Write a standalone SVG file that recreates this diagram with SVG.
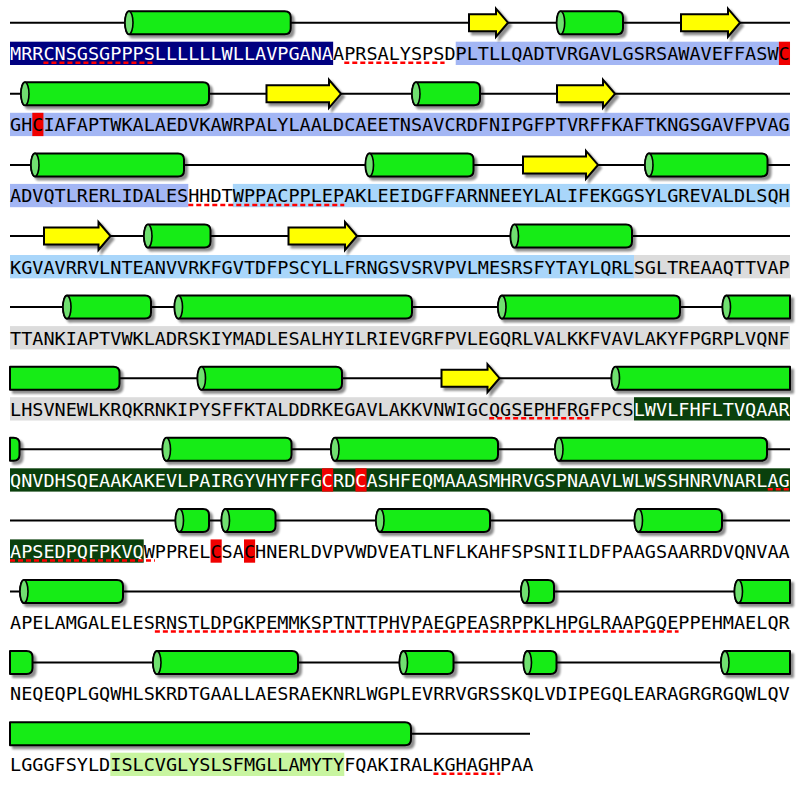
<svg xmlns="http://www.w3.org/2000/svg" width="800" height="785" viewBox="0 0 800 785">
<defs>
<filter id="ds" x="-5%" y="-30%" width="115%" height="170%">
<feGaussianBlur in="SourceAlpha" stdDeviation="0.8"/>
<feOffset dx="3" dy="3" result="o"/>
<feComponentTransfer><feFuncA type="linear" slope="0.45"/></feComponentTransfer>
<feMerge><feMergeNode/><feMergeNode in="SourceGraphic"/></feMerge>
</filter>
</defs>
<style>
.bb{stroke:#000;stroke-width:2;fill:none}
.hx{fill:#16ec16;stroke:#000;stroke-width:2;stroke-linejoin:round}
.cap{fill:#70e070;stroke:#000;stroke-width:1.6}
.st{fill:#ffff00;stroke:#000;stroke-width:2;stroke-linejoin:miter}
.seq{font-family:"DejaVu Sans Mono","Liberation Mono",monospace;font-size:18.5px;fill:#000}
.w{fill:#fff}
.ul{stroke:#ff0000;stroke-width:2.5;stroke-dasharray:5,3;fill:none}
.nv{fill:#000080}.pw{fill:#a3b6f4}.sk{fill:#a9d6fa}.gy{fill:#dcdcdc}.dg{fill:#0a400c}.rd{fill:#f00000}.lg{fill:#c8f5a0}
</style>
<rect width="800" height="785" fill="#fff"/>

<g id="row1" transform="translate(0,22.7)">
<rect class="nv" x="10" y="19" width="323.15" height="23.3"/>
<rect class="pw" x="455.72" y="19" width="323.15" height="23.3"/>
<rect class="rd" x="778.87" y="19" width="11.14" height="23.3"/>
<text class="seq" x="10" y="37.5"><tspan class="w">MRRCNSGSGPPPSLLLLLLWLLAVPGANA</tspan>APRSALYSPSDPLTLLQADTVRGAVLGSRSAWAVEFFASWC</text>
<path class="ul" d="M43.43,40H154.86M344.29,40H444.58"/>
<path class="bb" d="M10,0H790"/>
<g filter="url(#ds)">
<path class="hx" d="M129,-11.5H284.7Q290.7,-11.5 290.7,-5.5V5.5Q290.7,11.5 284.7,11.5H129A4,11.5 0 0 1 129,-11.5Z"/><ellipse class="cap" cx="129" cy="0" rx="4" ry="11.5"/>
<path class="st" d="M469,-8.5H496V-14L508,0L496,14V8.5H469Z"/>
<path class="hx" d="M560.7,-11.5H617Q623,-11.5 623,-5.5V5.5Q623,11.5 617,11.5H560.7A4,11.5 0 0 1 560.7,-11.5Z"/><ellipse class="cap" cx="560.7" cy="0" rx="4" ry="11.5"/>
<path class="st" d="M681,-8.5H728V-14L740,0L728,14V8.5H681Z"/>
</g>
</g>

<g id="row2" transform="translate(0,93.8)">
<rect class="pw" x="10" y="19" width="780" height="23.3"/>
<rect class="rd" x="32.29" y="19" width="11.14" height="23.3"/>
<text class="seq" x="10" y="37.5">GHCIAFAPTWKALAEDVKAWRPALYLAALDCAEETNSAVCRDFNIPGFPTVRFFKAFTKNGSGAVFPVAG</text>
<path class="bb" d="M10,0H790"/>
<g filter="url(#ds)">
<path class="hx" d="M25,-11.5H203Q209,-11.5 209,-5.5V5.5Q209,11.5 203,11.5H25A4,11.5 0 0 1 25,-11.5Z"/><ellipse class="cap" cx="25" cy="0" rx="4" ry="11.5"/>
<path class="st" d="M266.5,-8.5H329V-14L341,0L329,14V8.5H266.5Z"/>
<path class="hx" d="M416,-11.5H474Q480,-11.5 480,-5.5V5.5Q480,11.5 474,11.5H416A4,11.5 0 0 1 416,-11.5Z"/><ellipse class="cap" cx="416" cy="0" rx="4" ry="11.5"/>
<path class="st" d="M557,-8.5H603V-14L615,0L603,14V8.5H557Z"/>
</g>
</g>

<g id="row3" transform="translate(0,164.9)">
<rect class="pw" x="10" y="19" width="178.29" height="23.3"/>
<rect class="sk" x="232.86" y="19" width="557.15" height="23.3"/>
<text class="seq" x="10" y="37.5">ADVQTLRERLIDALESHHDTWPPACPPLEPAKLEEIDGFFARNNEEYLALIFEKGGSYLGREVALDLSQH</text>
<path class="ul" d="M188.29,40H344.29"/>
<path class="bb" d="M10,0H790"/>
<g filter="url(#ds)">
<path class="hx" d="M35,-11.5H178Q184,-11.5 184,-5.5V5.5Q184,11.5 178,11.5H35A4,11.5 0 0 1 35,-11.5Z"/><ellipse class="cap" cx="35" cy="0" rx="4" ry="11.5"/>
<path class="hx" d="M369.5,-11.5H467.5Q473.5,-11.5 473.5,-5.5V5.5Q473.5,11.5 467.5,11.5H369.5A4,11.5 0 0 1 369.5,-11.5Z"/><ellipse class="cap" cx="369.5" cy="0" rx="4" ry="11.5"/>
<path class="st" d="M523,-8.5H586V-14L598,0L586,14V8.5H523Z"/>
<path class="hx" d="M649,-11.5H761.5Q767.5,-11.5 767.5,-5.5V5.5Q767.5,11.5 761.5,11.5H649A4,11.5 0 0 1 649,-11.5Z"/><ellipse class="cap" cx="649" cy="0" rx="4" ry="11.5"/>
</g>
</g>

<g id="row4" transform="translate(0,236)">
<rect class="sk" x="10" y="19" width="624" height="23.3"/>
<rect class="gy" x="634" y="19" width="156" height="23.3"/>
<text class="seq" x="10" y="37.5">KGVAVRRVLNTEANVVRKFGVTDFPSCYLLFRNGSVSRVPVLMESRSFYTAYLQRLSGLTREAAQTTVAP</text>
<path class="bb" d="M10,0H790"/>
<g filter="url(#ds)">
<path class="st" d="M44,-8.5H98.5V-14L110.5,0L98.5,14V8.5H44Z"/>
<path class="hx" d="M148,-11.5H204.5Q210.5,-11.5 210.5,-5.5V5.5Q210.5,11.5 204.5,11.5H148A4,11.5 0 0 1 148,-11.5Z"/><ellipse class="cap" cx="148" cy="0" rx="4" ry="11.5"/>
<path class="st" d="M288.5,-8.5H345V-14L357,0L345,14V8.5H288.5Z"/>
<path class="hx" d="M514.5,-11.5H626Q632,-11.5 632,-5.5V5.5Q632,11.5 626,11.5H514.5A4,11.5 0 0 1 514.5,-11.5Z"/><ellipse class="cap" cx="514.5" cy="0" rx="4" ry="11.5"/>
</g>
</g>

<g id="row5" transform="translate(0,307.1)">
<rect class="gy" x="10" y="19" width="780" height="23.3"/>
<text class="seq" x="10" y="37.5">TTANKIAPTVWKLADRSKIYMADLESALHYILRIEVGRFPVLEGQRLVALKKFVAVLAKYFPGRPLVQNF</text>
<path class="bb" d="M10,0H790"/>
<g filter="url(#ds)">
<path class="hx" d="M67,-11.5H145Q151,-11.5 151,-5.5V5.5Q151,11.5 145,11.5H67A4,11.5 0 0 1 67,-11.5Z"/><ellipse class="cap" cx="67" cy="0" rx="4" ry="11.5"/>
<path class="hx" d="M178.5,-11.5H406Q412,-11.5 412,-5.5V5.5Q412,11.5 406,11.5H178.5A4,11.5 0 0 1 178.5,-11.5Z"/><ellipse class="cap" cx="178.5" cy="0" rx="4" ry="11.5"/>
<path class="hx" d="M502,-11.5H674Q680,-11.5 680,-5.5V5.5Q680,11.5 674,11.5H502A4,11.5 0 0 1 502,-11.5Z"/><ellipse class="cap" cx="502" cy="0" rx="4" ry="11.5"/>
<path class="hx" d="M726.5,-11.5H790V11.5H726.5A4,11.5 0 0 1 726.5,-11.5Z"/><ellipse class="cap" cx="726.5" cy="0" rx="4" ry="11.5"/>
</g>
</g>

<g id="row6" transform="translate(0,378.2)">
<rect class="gy" x="10" y="19" width="624" height="23.3"/>
<rect class="dg" x="634" y="19" width="156" height="23.3"/>
<text class="seq" x="10" y="37.5">LHSVNEWLKRQKRNKIPYSFFKTALDDRKEGAVLAKKVNWIGCQGSEPHFRGFPCS<tspan class="w">LWVLFHFLTVQAAR</tspan></text>
<path class="ul" d="M489.15,40H589.44"/>
<path class="bb" d="M10,0H790"/>
<g filter="url(#ds)">
<path class="hx" d="M10,-11.5H113.5Q119.5,-11.5 119.5,-5.5V5.5Q119.5,11.5 113.5,11.5H10Z"/>
<path class="hx" d="M201.5,-11.5H336Q342,-11.5 342,-5.5V5.5Q342,11.5 336,11.5H201.5A4,11.5 0 0 1 201.5,-11.5Z"/><ellipse class="cap" cx="201.5" cy="0" rx="4" ry="11.5"/>
<path class="st" d="M441.5,-8.5H487.5V-14L499.5,0L487.5,14V8.5H441.5Z"/>
<path class="hx" d="M615.5,-11.5H790V11.5H615.5A4,11.5 0 0 1 615.5,-11.5Z"/><ellipse class="cap" cx="615.5" cy="0" rx="4" ry="11.5"/>
</g>
</g>

<g id="row7" transform="translate(0,449.3)">
<rect class="dg" x="10" y="19" width="780" height="23.3"/>
<rect class="rd" x="322" y="19" width="11.14" height="23.3"/>
<rect class="rd" x="355.43" y="19" width="11.14" height="23.3"/>
<text class="seq w" x="10" y="37.5">QNVDHSQEAAKAKEVLPAIRGYVHYFFGCRDCASHFEQMAAASMHRVGSPNAAVLWLWSSHNRVNARLAG</text>
<path class="ul" d="M767.72,40H790"/>
<path class="bb" d="M10,0H790"/>
<g filter="url(#ds)">
<path class="hx" d="M10,-11.5H13.5Q19.5,-11.5 19.5,-5.5V5.5Q19.5,11.5 13.5,11.5H10Z"/>
<path class="hx" d="M166.5,-11.5H285.5Q291.5,-11.5 291.5,-5.5V5.5Q291.5,11.5 285.5,11.5H166.5A4,11.5 0 0 1 166.5,-11.5Z"/><ellipse class="cap" cx="166.5" cy="0" rx="4" ry="11.5"/>
<path class="hx" d="M335,-11.5H492Q498,-11.5 498,-5.5V5.5Q498,11.5 492,11.5H335A4,11.5 0 0 1 335,-11.5Z"/><ellipse class="cap" cx="335" cy="0" rx="4" ry="11.5"/>
<path class="hx" d="M559,-11.5H761Q767,-11.5 767,-5.5V5.5Q767,11.5 761,11.5H559A4,11.5 0 0 1 559,-11.5Z"/><ellipse class="cap" cx="559" cy="0" rx="4" ry="11.5"/>
</g>
</g>

<g id="row8" transform="translate(0,520.4)">
<rect class="dg" x="10" y="19" width="133.72" height="23.3"/>
<rect class="rd" x="210.57" y="19" width="11.14" height="23.3"/>
<rect class="rd" x="244" y="19" width="11.14" height="23.3"/>
<text class="seq" x="10" y="37.5"><tspan class="w">APSEDPQFPKVQ</tspan>WPPRELCSACHNERLDVPVWDVEATLNFLKAHFSPSNIILDFPAAGSAARRDVQNVAA</text>
<path class="ul" d="M10,40H154.86"/>
<path class="bb" d="M10,0H790"/>
<g filter="url(#ds)">
<path class="hx" d="M179.5,-11.5H203Q209,-11.5 209,-5.5V5.5Q209,11.5 203,11.5H179.5A4,11.5 0 0 1 179.5,-11.5Z"/><ellipse class="cap" cx="179.5" cy="0" rx="4" ry="11.5"/>
<path class="hx" d="M225.5,-11.5H269.5Q275.5,-11.5 275.5,-5.5V5.5Q275.5,11.5 269.5,11.5H225.5A4,11.5 0 0 1 225.5,-11.5Z"/><ellipse class="cap" cx="225.5" cy="0" rx="4" ry="11.5"/>
<path class="hx" d="M380,-11.5H484Q490,-11.5 490,-5.5V5.5Q490,11.5 484,11.5H380A4,11.5 0 0 1 380,-11.5Z"/><ellipse class="cap" cx="380" cy="0" rx="4" ry="11.5"/>
<path class="hx" d="M638.5,-11.5H716Q722,-11.5 722,-5.5V5.5Q722,11.5 716,11.5H638.5A4,11.5 0 0 1 638.5,-11.5Z"/><ellipse class="cap" cx="638.5" cy="0" rx="4" ry="11.5"/>
</g>
</g>

<g id="row9" transform="translate(0,591.5)">
<text class="seq" x="10" y="37.5">APELAMGALELESRNSTLDPGKPEMMKSPTNTTPHVPAEGPEASRPPKLHPGLRAAPGQEPPEHMAELQR</text>
<path class="ul" d="M154.86,40H678.58"/>
<path class="bb" d="M10,0H790"/>
<g filter="url(#ds)">
<path class="hx" d="M24,-11.5H117Q123,-11.5 123,-5.5V5.5Q123,11.5 117,11.5H24A4,11.5 0 0 1 24,-11.5Z"/><ellipse class="cap" cx="24" cy="0" rx="4" ry="11.5"/>
<path class="hx" d="M525,-11.5H548Q554,-11.5 554,-5.5V5.5Q554,11.5 548,11.5H525A4,11.5 0 0 1 525,-11.5Z"/><ellipse class="cap" cx="525" cy="0" rx="4" ry="11.5"/>
<path class="hx" d="M738.5,-11.5H790V11.5H738.5A4,11.5 0 0 1 738.5,-11.5Z"/><ellipse class="cap" cx="738.5" cy="0" rx="4" ry="11.5"/>
</g>
</g>

<g id="row10" transform="translate(0,662.6)">
<text class="seq" x="10" y="37.5">NEQEQPLGQWHLSKRDTGAALLAESRAEKNRLWGPLEVRRVGRSSKQLVDIPEGQLEARAGRGRGQWLQV</text>
<path class="bb" d="M10,0H790"/>
<g filter="url(#ds)">
<path class="hx" d="M10,-11.5H26.5Q32.5,-11.5 32.5,-5.5V5.5Q32.5,11.5 26.5,11.5H10Z"/>
<path class="hx" d="M157,-11.5H292Q298,-11.5 298,-5.5V5.5Q298,11.5 292,11.5H157A4,11.5 0 0 1 157,-11.5Z"/><ellipse class="cap" cx="157" cy="0" rx="4" ry="11.5"/>
<path class="hx" d="M403.5,-11.5H447.5Q453.5,-11.5 453.5,-5.5V5.5Q453.5,11.5 447.5,11.5H403.5A4,11.5 0 0 1 403.5,-11.5Z"/><ellipse class="cap" cx="403.5" cy="0" rx="4" ry="11.5"/>
<path class="hx" d="M527.5,-11.5H550.5Q556.5,-11.5 556.5,-5.5V5.5Q556.5,11.5 550.5,11.5H527.5A4,11.5 0 0 1 527.5,-11.5Z"/><ellipse class="cap" cx="527.5" cy="0" rx="4" ry="11.5"/>
<path class="hx" d="M725,-11.5H790V11.5H725A4,11.5 0 0 1 725,-11.5Z"/><ellipse class="cap" cx="725" cy="0" rx="4" ry="11.5"/>
</g>
</g>

<g id="row11" transform="translate(0,733.7)">
<rect class="lg" x="110.29" y="19" width="234" height="23.3"/>
<text class="seq" x="10" y="37.5">LGGGFSYLDISLCVGLYSLSFMGLLAMYTYFQAKIRALKGHAGHPAA</text>
<path class="ul" d="M433.43,40H500.29"/>
<path class="bb" d="M10,0H530"/>
<g filter="url(#ds)">
<path class="hx" d="M10,-11.5H405Q411,-11.5 411,-5.5V5.5Q411,11.5 405,11.5H10Z"/>
</g>
</g>
</svg>
